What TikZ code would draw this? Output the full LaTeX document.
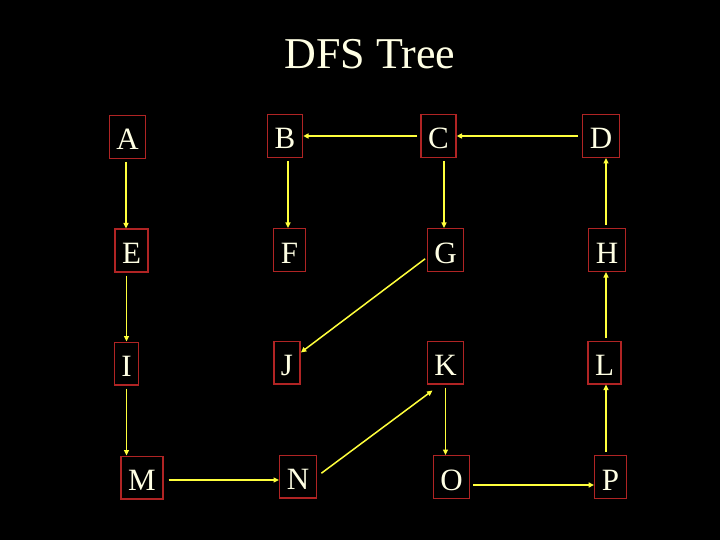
\documentclass[tikz,border=0pt]{standalone}
\usepackage{fontspec}
\setmainfont{Liberation Serif}
\usetikzlibrary{calc,arrows.meta}
\definecolor{boxred}{HTML}{B02424}
\definecolor{arrowyellow}{HTML}{FFFF3C}
\definecolor{cream}{HTML}{FFFFE4}
\tikzset{
  vert/.style={draw=boxred, line width=1.4pt, text=cream, font=\fontsize{31}{31}\selectfont,
    inner xsep=7.1pt, inner ysep=0pt, text height=34.3pt, text depth=8.3pt},
  arr/.style={draw=arrowyellow, line width=1.5pt, -{Triangle[length=5.5pt,width=5pt]}, shorten <=3pt}
}
\begin{document}
\begin{tikzpicture}[x=1pt,y=-1pt]
\fill[black] (0,0) rectangle (720,540);
\useasboundingbox (0,0) rectangle (720,540);
\node[text=cream, font=\fontsize{44}{44}\selectfont, anchor=base] (title) at (370,69) {DFS Tree};
\node[vert] (A) at (127.5,137) {A};
\node[vert] (B) at (285,136) {B};
\node[vert] (C) at (438.5,136) {C};
\node[vert] (D) at (601,136) {D};
\node[vert] (E) at (131.5,250.5) {E};
\node[vert] (F) at (289.5,250) {F};
\node[vert] (G) at (445.5,250) {G};
\node[vert] (H) at (607,250) {H};
\node[vert] (I) at (126.5,363.5) {I};
\node[vert] (J) at (287,362.5) {J};
\node[vert] (K) at (445.5,362.5) {K};
\node[vert] (L) at (604.5,362.5) {L};
\node[vert] (M) at (142,477.5) {M};
\node[vert] (N) at (298,476.5) {N};
\node[vert] (O) at (451.5,477) {O};
\node[vert] (P) at (610.5,477) {P};
% helper coordinates
\coordinate (ae1) at ($(A.south)+(-1.5,0)$);
\coordinate (ae2) at (ae1 |- E.north);
\coordinate (mn1) at ($(M.east)+(2,2.5)$);
\coordinate (mn2) at (mn1 -| N.west);
\coordinate (bf1) at ($(B.south)+(3,0)$);
\coordinate (bf2) at (bf1 |- F.north);
\coordinate (dc1) at ($(D.west)+(-1,0)$);
\coordinate (cg1) at ($(C.south)+(5.5,0)$);
\coordinate (cg2) at (cg1 |- G.north);
\coordinate (gj1) at ($(G.west)+(1,7)$);
\coordinate (gj2) at ($(J.east)+(0,-10)$);
\coordinate (nk1) at ($(N.east)+(2,-1.5)$);
\coordinate (nk2) at ($(K.south west)+(6,6)$);
\coordinate (op1) at ($(O.east)+(0,8)$);
\coordinate (op2) at (op1 -| P.west);
\coordinate (pl1) at ($(P.north)+(-4.5,0)$);
\coordinate (pl2) at (pl1 |- L.south);
\coordinate (lh1) at ($(L.north)+(1.5,0)$);
\coordinate (lh2) at (lh1 |- H.south);
\coordinate (hd1) at ($(H.north)+(-1,0)$);
\coordinate (hd2) at (hd1 |- D.south);
% edges
\draw[arr] (ae1) -- (ae2);
\draw[arr] (I.north |- E.south) -- (I.north);
\draw[arr] (I.south) -- (I.south |- M.north);
\draw[arr] (mn1) -- (mn2);
\draw[arr] (bf1) -- (bf2);
\draw[arr] (C.west) -- (C.west -| B.east);
\draw[arr] (dc1) -- (dc1 -| C.east);
\draw[arr] (cg1) -- (cg2);
\draw[arr] (gj1) -- (gj2);
\draw[arr] (nk1) -- (nk2);
\draw[arr] (K.south) -- (K.south |- O.north);
\draw[arr] (op1) -- (op2);
\draw[arr] (pl1) -- (pl2);
\draw[arr] (lh1) -- (lh2);
\draw[arr] (hd1) -- (hd2);
\end{tikzpicture}
\end{document}
